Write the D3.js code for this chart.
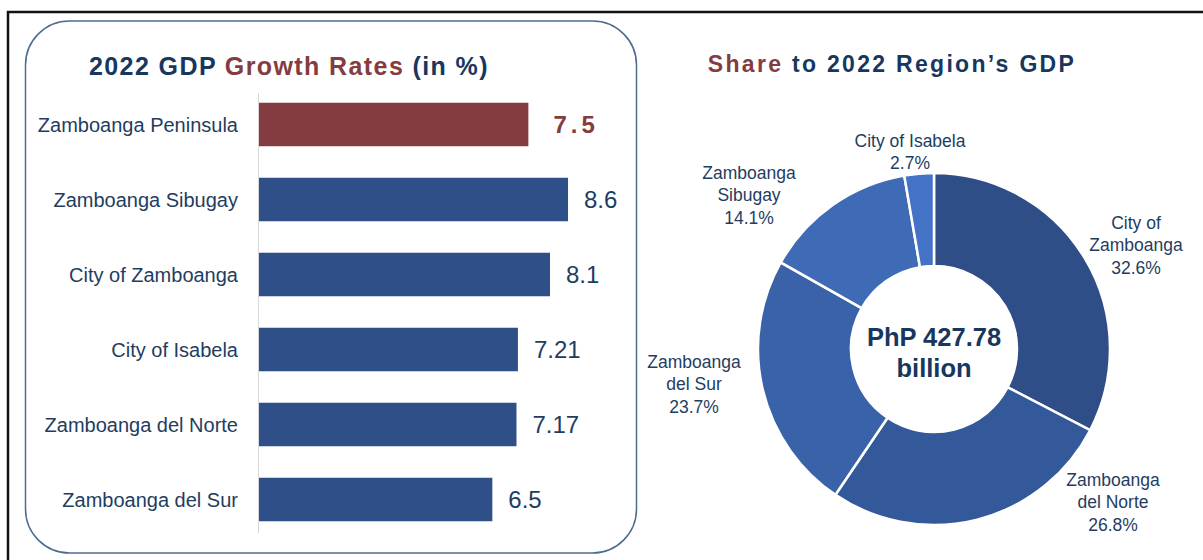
<!DOCTYPE html>
<html>
<head>
<meta charset="utf-8">
<script src="https://cdn.jsdelivr.net/npm/d3@7"></script>
<style>
  body { margin: 0; background: #fff; }
  svg { display: block; font-family: "Liberation Sans", Arial, sans-serif; }
</style>
</head>
<body>
<div class="chart"></div>
<script>
// growth rates (left panel)
var regions = ["Zamboanga Peninsula", "Zamboanga Sibugay", "City of Zamboanga",
               "City of Isabela", "Zamboanga del Norte", "Zamboanga del Sur"];
var growth = [7.5, 8.6, 8.1, 7.21, 7.17, 6.5];
var growthLabels = ["7.5", "8.6", "8.1", "7.21", "7.17", "6.5"];

// share to region GDP (right panel), clockwise from 12 o'clock
var shareNames = [["City of", "Zamboanga"], ["Zamboanga", "del Norte"], ["Zamboanga", "del Sur"],
                  ["Zamboanga", "Sibugay"], ["City of Isabela"]];
var shares = [32.6, 26.8, 23.7, 14.1, 2.7];
var totalGdp = ["PhP 427.78", "billion"];

var svgWidth = 1203;
var svgHeight = 560;

var navy = "#17375e";
var textBlue = "#1f3d5f";
var darkRed = "#843c40";
var barBlue = "#2f4f88";
var sliceColors = ["#2f4e87", "#34599a", "#3a62a8", "#3f6ab5", "#4472c4"];

var svg = d3.select(".chart")
  .append("svg")
  .attr("width", svgWidth)
  .attr("height", svgHeight);

svg.append("rect")
  .attr("width", svgWidth)
  .attr("height", svgHeight)
  .attr("fill", "#fff");

// black frame, top and left only
svg.append("path")
  .attr("d", "M8,560 L8,12 L1203,12")
  .attr("fill", "none")
  .attr("stroke", "#111")
  .attr("stroke-width", 2.5);

// rounded box round the bar chart
svg.append("rect")
  .attr("x", 25.5)
  .attr("y", 21)
  .attr("width", 611)
  .attr("height", 532)
  .attr("rx", 44)
  .attr("fill", "none")
  .attr("stroke", "#4d6d8e")
  .attr("stroke-width", 1.5);

// ---------- left: bar chart ----------
var leftTitle = svg.append("text")
  .attr("x", 289)
  .attr("y", 75)
  .attr("text-anchor", "middle")
  .attr("font-size", 25)
  .attr("font-weight", "bold")
  .attr("letter-spacing", 1.4)
  .attr("fill", navy);
leftTitle.append("tspan").text("2022 GDP ");
leftTitle.append("tspan").attr("fill", darkRed).text("Growth Rates");
leftTitle.append("tspan").text(" (in %)");

var xScale = d3.scaleLinear()
  .domain([0, 9])
  .range([258, 258 + 9 * 36.05]);

var yScale = d3.scaleBand()
  .domain(regions)
  .range([87, 537])
  .paddingInner(0.42)
  .paddingOuter(0.21);

var barGroup = svg.append("g");

// axis line
barGroup.append("line")
  .attr("x1", xScale(0) + 0.5)
  .attr("x2", xScale(0) + 0.5)
  .attr("y1", 93)
  .attr("y2", 533)
  .attr("stroke", "#d9d9d9")
  .attr("stroke-width", 1);

barGroup.selectAll(".bar")
  .data(regions)
  .enter()
  .append("rect")
  .attr("class", "bar")
  .attr("x", xScale(0) + 1)
  .attr("y", d => yScale(d))
  .attr("width", (d, i) => xScale(growth[i]) - xScale(0) - 1)
  .attr("height", yScale.bandwidth())
  .attr("fill", (d, i) => i === 0 ? darkRed : barBlue);

// category labels
barGroup.selectAll(".cat")
  .data(regions)
  .enter()
  .append("text")
  .attr("class", "cat")
  .attr("x", 238)
  .attr("y", d => yScale(d) + yScale.bandwidth() / 2)
  .attr("dy", "0.36em")
  .attr("text-anchor", "end")
  .attr("font-size", 20)
  .attr("fill", textBlue)
  .text(d => d);

// value labels
barGroup.selectAll(".val")
  .data(regions)
  .enter()
  .append("text")
  .attr("class", "val")
  .attr("x", (d, i) => xScale(growth[i]) + (i === 0 ? 25 : 16))
  .attr("y", d => yScale(d) + yScale.bandwidth() / 2)
  .attr("dy", "0.36em")
  .attr("font-size", 24)
  .attr("font-weight", (d, i) => i === 0 ? "bold" : "normal")
  .attr("letter-spacing", (d, i) => i === 0 ? 4 : 0)
  .attr("fill", (d, i) => i === 0 ? darkRed : textBlue)
  .text((d, i) => growthLabels[i]);

// ---------- right: donut ----------
var rightTitle = svg.append("text")
  .attr("x", 892)
  .attr("y", 72)
  .attr("text-anchor", "middle")
  .attr("font-size", 23)
  .attr("font-weight", "bold")
  .attr("letter-spacing", 2.3)
  .attr("fill", navy);
rightTitle.append("tspan").attr("fill", darkRed).text("Share");
rightTitle.append("tspan").text(" to 2022 Region\u2019s GDP");

var cx = 934, cy = 349;
var outerR = 176, innerR = 83;

var pie = d3.pie().sort(null).value(d => d);
var arc = d3.arc().innerRadius(innerR).outerRadius(outerR);

var donut = svg.append("g")
  .attr("transform", `translate(${cx}, ${cy})`);

donut.selectAll("path")
  .data(pie(shares))
  .enter()
  .append("path")
  .attr("d", arc)
  .attr("fill", (d, i) => sliceColors[i])
  .attr("stroke", "#fff")
  .attr("stroke-width", 2.5);

// label spots, offset from donut centre (placed by hand like the original)
var labelSpots = [[202, -104], [179, 153], [-240, 35], [-185, -154], [-24, -197]];

var labels = donut.selectAll(".slice-label")
  .data(shares)
  .enter()
  .append("text")
  .attr("class", "slice-label")
  .attr("text-anchor", "middle")
  .attr("font-size", 17.5)
  .attr("fill", textBlue);

labels.each(function(d, i) {
  var lines = shareNames[i].concat([d3.format(".1f")(d) + "%"]);
  var t = d3.select(this);
  var startY = labelSpots[i][1] - (lines.length - 1) * 22.5 / 2;
  lines.forEach(function(line, j) {
    t.append("tspan")
      .attr("x", labelSpots[i][0])
      .attr("y", startY + j * 22.5)
      .attr("dy", "0.35em")
      .text(line);
  });
});

// centre text
donut.selectAll(".total")
  .data(totalGdp)
  .enter()
  .append("text")
  .attr("class", "total")
  .attr("x", 0)
  .attr("y", (d, i) => -3 + i * 31)
  .attr("text-anchor", "middle")
  .attr("font-size", 25.5)
  .attr("font-weight", "bold")
  .attr("fill", navy)
  .text(d => d);
</script>
</body>
</html>
